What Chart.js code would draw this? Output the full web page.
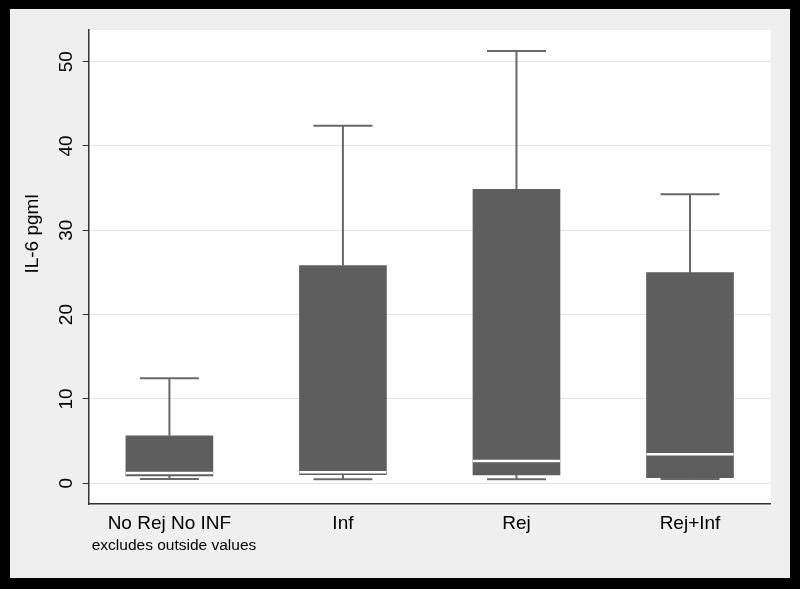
<!DOCTYPE html>
<html lang="en">
<head>
<meta charset="UTF-8">
<title>IL-6 pgml</title>
<script src="https://cdn.jsdelivr.net/npm/chart.js"></script>
<style>
  html, body { margin: 0; padding: 0; background: #000; }
  #marco { position: absolute; left: 10px; top: 9px; width: 780px; height: 569px; background: #efefef; }
</style>
</head>
<body>
<div id="marco"><canvas id="myChart" width="780" height="569"></canvas></div>
<script>
// datos (mediana, cuartiles, bigotes)
const grupos = ["No Rej No INF", "Inf", "Rej", "Rej+Inf"];
const posiciones = [1, 2, 3, 4];
const minimos = [0.5, 0.47, 0.47, 0.5];
const q1 = [0.85, 1.0, 0.97, 0.65];
const medianas = [1.2, 1.3, 2.63, 3.43];
const q3 = [5.63, 25.8, 34.86, 24.97];
const maximos = [12.44, 42.4, 51.27, 34.27];
const ticksY = [0, 10, 20, 30, 40, 50];
const tituloY = "IL-6 pgml";
const nota = "excludes outside values";

const fuente = "'Liberation Sans', Arial, sans-serif";

const cajas = {
  id: "cajas",
  beforeDraw(chart) {
    const a = chart.chartArea;
    const ctx = chart.ctx;
    ctx.save();
    ctx.fillStyle = "#ffffff";
    ctx.fillRect(a.left, a.top, a.right - a.left, a.bottom - a.top);
    ctx.restore();
  },
  afterDatasetsDraw(chart) {
    const ctx = chart.ctx;
    const xs = chart.scales.x;
    const ys = chart.scales.y;
    ctx.save();
    posiciones.forEach((p, i) => {
      const x = xs.getPixelForValue(p);
      const cap = 59 / 2;
      const half = 87 / 2;
      // bigotes
      ctx.strokeStyle = "#686868";
      ctx.lineWidth = 2;
      ctx.beginPath();
      ctx.moveTo(x, ys.getPixelForValue(q3[i]));
      ctx.lineTo(x, ys.getPixelForValue(maximos[i]));
      ctx.moveTo(x - cap, ys.getPixelForValue(maximos[i]));
      ctx.lineTo(x + cap, ys.getPixelForValue(maximos[i]));
      ctx.moveTo(x, ys.getPixelForValue(q1[i]));
      ctx.lineTo(x, ys.getPixelForValue(minimos[i]));
      ctx.moveTo(x - cap, ys.getPixelForValue(minimos[i]));
      ctx.lineTo(x + cap, ys.getPixelForValue(minimos[i]));
      ctx.stroke();
      // mediana
      ctx.strokeStyle = "#ffffff";
      ctx.lineWidth = 2.5;
      ctx.beginPath();
      ctx.moveTo(x - half, ys.getPixelForValue(medianas[i]));
      ctx.lineTo(x + half, ys.getPixelForValue(medianas[i]));
      ctx.stroke();
    });
    ctx.restore();
  },
  afterDraw(chart) {
    const ctx = chart.ctx;
    const a = chart.chartArea;
    ctx.save();
    ctx.fillStyle = "#000";
    ctx.font = "15.5px " + fuente;
    ctx.textAlign = "left";
    ctx.textBaseline = "middle";
    ctx.fillText(nota, a.left + 3, a.bottom + 42);
    ctx.translate(23, 225);
    ctx.rotate(-Math.PI / 2);
    ctx.font = "19px " + fuente;
    ctx.textAlign = "center";
    ctx.fillText(tituloY, 0, 0);
    ctx.restore();
  }
};

const config = {
  type: "bar",
  data: {
    datasets: [{
      data: posiciones.map((p, i) => ({ x: p, y: [q1[i], q3[i]] })),
      backgroundColor: "#5e5e5e",
      borderWidth: 0,
      barThickness: 87
    }]
  },
  options: {
    responsive: false,
    animation: false,
    layout: { padding: { left: 0, top: 21, right: 19.3, bottom: 0 } },
    plugins: { legend: { display: false }, tooltip: { enabled: false } },
    scales: {
      x: {
        type: "linear",
        min: 0.535,
        max: 4.465,
        offset: false,
        grid: { display: false, drawTicks: false, tickLength: 0, offset: false },
        border: { display: true, color: "#333", width: 1.5 },
        ticks: {
          color: "#000",
          font: { size: 19, family: fuente },
          padding: 8,
          autoSkip: false,
          maxRotation: 0,
          callback: (v) => grupos[posiciones.indexOf(v)]
        },
        afterBuildTicks: (s) => { s.ticks = posiciones.map((v) => ({ value: v })); },
        afterFit: (s) => { s.height = 74; }
      },
      y: {
        min: -2.47,
        max: 53.76,
        grid: { color: "#e4e4e4", lineWidth: 1, tickLength: 6, tickColor: "#333" },
        border: { color: "#333", width: 1.5 },
        ticks: {
          color: "#000",
          font: { size: 19, family: fuente },
          minRotation: 90,
          maxRotation: 90,
          crossAlign: "center",
          padding: 5
        },
        afterBuildTicks: (s) => { s.ticks = ticksY.map((v) => ({ value: v })); },
        afterFit: (s) => { s.width = 78.7; }
      }
    }
  },
  plugins: [cajas]
};

new Chart(document.getElementById("myChart"), config);
</script>
</body>
</html>
